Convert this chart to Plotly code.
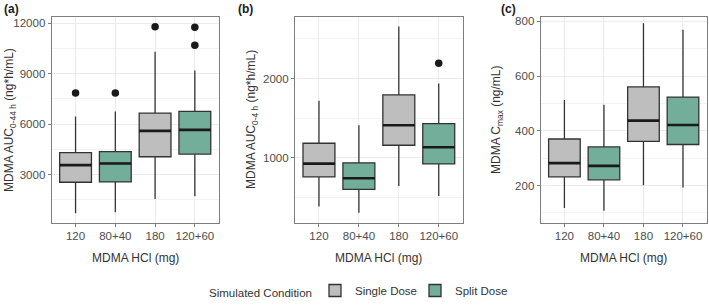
import plotly.graph_objects as go

# ---------------- data ----------------
categories = ["120", "80+40", "180", "120+60"]
condition = ["Single Dose", "Split Dose", "Single Dose", "Split Dose"]

# Panel (a) AUC 0-44 h
a_q1 = [2540, 2560, 4060, 4220]
a_median = [3560, 3660, 5600, 5660]
a_q3 = [4300, 4360, 6660, 6760]
a_low = [700, 760, 1540, 1700]
a_high = [6460, 6760, 10320, 9200]
a_out_cat = [0, 1, 2, 3, 3]
a_out_val = [7850, 7850, 11800, 11780, 10700]

# Panel (b) AUC 0-4 h
b_q1 = [760, 604, 1159, 924]
b_median = [928, 743, 1411, 1134]
b_q3 = [1184, 937, 1794, 1432]
b_low = [386, 310, 647, 521]
b_high = [1719, 1411, 2656, 1937]
b_out_cat = [3]
b_out_val = [2193]

# Panel (c) Cmax
c_q1 = [232, 221, 361, 350]
c_median = [282, 272, 437, 421]
c_q3 = [370, 341, 560, 523]
c_low = [118, 108, 201, 193]
c_high = [512, 495, 793, 769]
c_out_cat = []
c_out_val = []

y_titles = ["MDMA AUC<sub>0-44 h</sub> (ng*h/mL)",
            "MDMA AUC<sub>0-4 h</sub> (ng*h/mL)",
            "MDMA C<sub>max</sub> (ng/mL)"]
panel_labels = ["(a)", "(b)", "(c)"]
x_title = "MDMA HCl (mg)"
legend_title = "Simulated Condition"

# ---------------- style ----------------
W, H = 709, 305
colors = {"Single Dose": "#BEBEBE", "Split Dose": "#72AE99"}
legend_ids = {"Single Dose": "legend", "Split Dose": "legend2"}
legend_x = {"Single Dose": 315, "Split Dose": 415}
BOX_W = 0.8
FONT = "Liberation Sans, Arial, sans-serif"

panels = [
    dict(q1=a_q1, med=a_median, q3=a_q3, lo=a_low, hi=a_high, oc=a_out_cat, ov=a_out_val,
         xd=(51.7, 218.7), yr=(140, 12360), dt=3000, minor=1500, ytx=10),
    dict(q1=b_q1, med=b_median, q3=b_q3, lo=b_low, hi=b_high, oc=b_out_cat, ov=b_out_val,
         xd=(295.0, 462.7), yr=(185, 2770), dt=1000, minor=500, ytx=252),
    dict(q1=c_q1, med=c_median, q3=c_q3, lo=c_low, hi=c_high, oc=c_out_cat, ov=c_out_val,
         xd=(540.7, 706.7), yr=(65, 814), dt=200, minor=100, ytx=497),
]
label_x = [2, 236, 499]

top_px, bot_px = 15.5, 222
ydom = [1 - bot_px / H, 1 - top_px / H]

fig = go.Figure()
annotations = []
layout_axes = {}

for p_i, p in enumerate(panels):
    sfx = "" if p_i == 0 else str(p_i + 1)
    xref, yref = "x" + sfx, "y" + sfx
    for cond in ["Single Dose", "Split Dose"]:
        idx = [i for i, c in enumerate(condition) if c == cond]
        fig.add_trace(go.Box(
            x=idx,
            q1=[p["q1"][i] for i in idx],
            median=[p["med"][i] for i in idx],
            q3=[p["q3"][i] for i in idx],
            lowerfence=[p["lo"][i] for i in idx],
            upperfence=[p["hi"][i] for i in idx],
            width=BOX_W, whiskerwidth=0,
            fillcolor=colors[cond],
            line=dict(color="#333333", width=1.3),
            name=cond, legendgroup=cond, showlegend=(p_i == 0),
            legend=legend_ids[cond],
            boxpoints=False, hoverinfo="skip",
            xaxis=xref, yaxis=yref,
        ))
    # thicker median lines
    mx, my = [], []
    for i in range(len(categories)):
        mx += [i - BOX_W / 2, i + BOX_W / 2, None]
        my += [p["med"][i], p["med"][i], None]
    fig.add_trace(go.Scatter(x=mx, y=my, mode="lines",
                             line=dict(color="#1a1a1a", width=2.6),
                             showlegend=False, hoverinfo="skip",
                             xaxis=xref, yaxis=yref))
    if p["oc"]:
        fig.add_trace(go.Scatter(x=p["oc"], y=p["ov"], mode="markers",
                                 marker=dict(color="#1a1a1a", size=7.5),
                                 showlegend=False, hoverinfo="skip",
                                 xaxis=xref, yaxis=yref))

    xkey = "xaxis" + sfx
    ykey = "yaxis" + sfx
    layout_axes[xkey] = dict(
        domain=[p["xd"][0] / W, p["xd"][1] / W], anchor=yref,
        range=[-0.6, 3.6], tickmode="array",
        tickvals=list(range(len(categories))), ticktext=categories,
        showgrid=True, gridcolor="#EBEBEB", gridwidth=1,
        showline=True, linecolor="#7F7F7F", linewidth=1.2, mirror=True,
        ticks="outside", ticklen=3, tickcolor="#7F7F7F", tickwidth=1,
        tickfont=dict(family=FONT, size=11.5, color="#4D4D4D"),
        zeroline=False, fixedrange=True,
    )
    layout_axes[ykey] = dict(
        domain=ydom, anchor=xref, range=list(p["yr"]),
        tickmode="linear", tick0=0, dtick=p["dt"], tickformat="d",
        showgrid=True, gridcolor="#EBEBEB", gridwidth=1,
        minor=dict(dtick=p["minor"], tick0=0, showgrid=True,
                   gridcolor="#F3F3F3", gridwidth=0.6, ticks=""),
        showline=True, linecolor="#7F7F7F", linewidth=1.2, mirror=True,
        ticks="outside", ticklen=3, tickcolor="#7F7F7F", tickwidth=1,
        tickfont=dict(family=FONT, size=11.5, color="#4D4D4D"),
        zeroline=False, fixedrange=True,
    )
    # y title
    annotations.append(dict(
        text=y_titles[p_i], xref="paper", yref="paper",
        x=p["ytx"] / W, y=(ydom[0] + ydom[1]) / 2, textangle=-90,
        xanchor="center", yanchor="middle", showarrow=False,
        font=dict(family=FONT, size=12, color="#333333")))
    # x title
    annotations.append(dict(
        text=x_title, xref="paper", yref="paper",
        x=(p["xd"][0] + p["xd"][1]) / 2 / W, y=1 - 258 / H,
        xanchor="center", yanchor="middle", showarrow=False,
        font=dict(family=FONT, size=12, color="#333333")))
    # panel label
    annotations.append(dict(
        text="<b>" + panel_labels[p_i] + "</b>", xref="paper", yref="paper",
        x=label_x[p_i] / W, y=1 - 7 / H, xanchor="left", yanchor="middle",
        showarrow=False, font=dict(family=FONT, size=12, color="#1a1a1a")))

# legend title as annotation
annotations.append(dict(
    text=legend_title, xref="paper", yref="paper",
    x=207 / W, y=1 - 293 / H, xanchor="left", yanchor="middle",
    showarrow=False, font=dict(family=FONT, size=11.5, color="#333333")))

legend_common = dict(orientation="h", xanchor="left", y=0, yanchor="bottom",
                     font=dict(family=FONT, size=11.5, color="#333333"),
                     itemwidth=30, bgcolor="rgba(0,0,0,0)")

fig.update_layout(
    width=W, height=H, margin=dict(l=0, r=0, t=0, b=0),
    paper_bgcolor="white", plot_bgcolor="white",
    annotations=annotations,
    showlegend=True,
    legend=dict(x=legend_x["Single Dose"] / W, **legend_common),
    legend2=dict(x=legend_x["Split Dose"] / W, **legend_common),
    **layout_axes,
)

fig.write_html("out.html", config={"displayModeBar": False},
               post_script="document.body.style.margin='0';document.body.style.padding='0';")
